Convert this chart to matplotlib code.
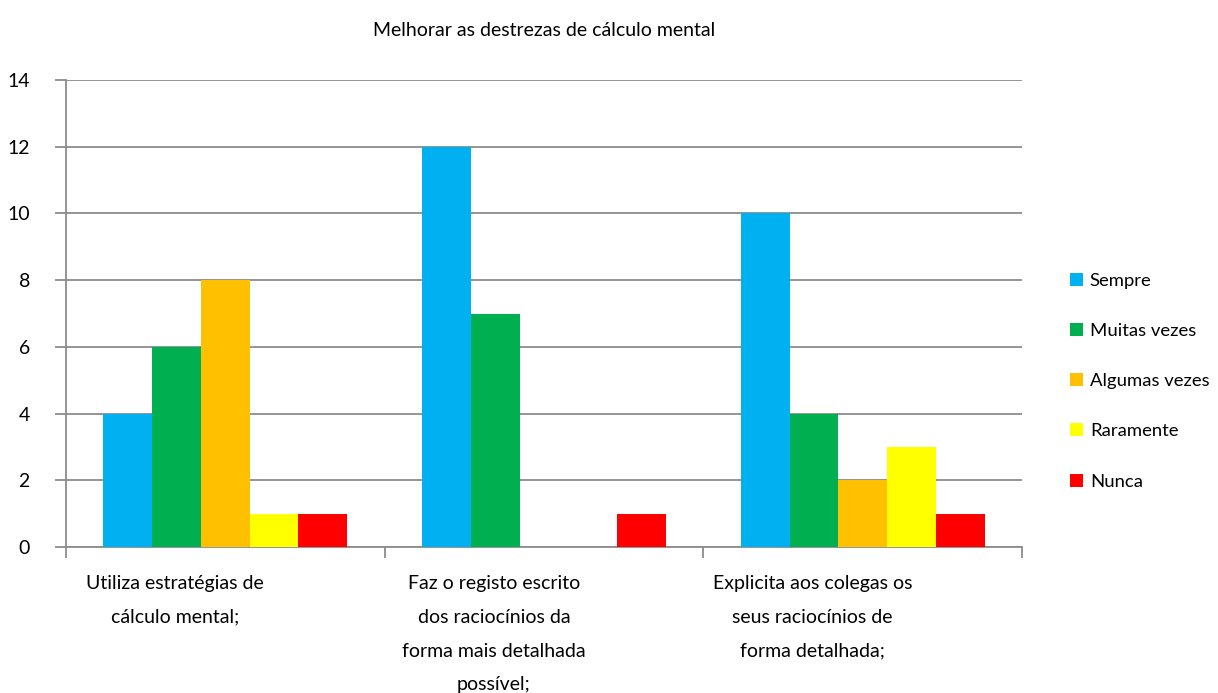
import matplotlib
matplotlib.use("Agg")
import matplotlib.pyplot as plt
import matplotlib.transforms as mtransforms
import numpy as np

plt.rcParams['font.family'] = ['Lato', 'DejaVu Sans']

title = "Melhorar as destrezas de cálculo mental"
categories = [
    "Utiliza estratégias de\ncálculo mental;",
    "Faz o registo escrito\ndos raciocínios da\nforma mais detalhada\npossível;",
    "Explicita aos colegas os\nseus raciocínios de\nforma detalhada;",
]
series = ["Sempre", "Muitas vezes", "Algumas vezes", "Raramente", "Nunca"]
sempre = [4, 12, 10]
muitas_vezes = [6, 7, 4]
algumas_vezes = [8, 0, 2]
raramente = [1, 0, 3]
nunca = [1, 1, 1]
colors = ["#00B0F0", "#00B050", "#FFC000", "#FFFF00", "#FF0000"]

values = [sempre, muitas_vezes, algumas_vezes, raramente, nunca]

fig = plt.figure(figsize=(12.18, 6.93), dpi=100)
ax = fig.add_axes([66 / 1218, 1 - 547 / 693, (1022 - 66) / 1218, (547 - 80) / 693])

x = np.arange(len(categories))
w = 0.153
for i, (name, vals, c) in enumerate(zip(series, values, colors)):
    ax.bar(x + (i - 2) * w, vals, width=w, color=c, label=name, zorder=3)

ax.set_xlim(-0.5, len(categories) - 0.5)
ax.set_ylim(0, 14)
ax.set_yticks(range(0, 15, 2))
ax.yaxis.grid(True, color="#8c8c8c", linewidth=1.3, zorder=0)
for s in ["top", "right"]:
    ax.spines[s].set_visible(False)
for s in ["left", "bottom"]:
    ax.spines[s].set_color("#8c8c8c")
    ax.spines[s].set_linewidth(1.3)
ax.tick_params(axis="y", length=8, width=1.3, color="#8c8c8c", pad=18, labelsize=14)
ax.set_xticks(np.arange(-0.5, len(categories), 1.0))
ax.set_xticklabels([])
ax.tick_params(axis="x", length=8, width=1.3, color="#8c8c8c")

# category labels, slightly shifted left as in the original
offset = mtransforms.ScaledTranslation(-0.5, -0.08, fig.dpi_scale_trans)
for xi, lab in zip(x, categories):
    ax.text(xi, -0.6, lab, ha="center", va="top", fontsize=14, linespacing=2.2,
            transform=ax.transData + offset)

ax.set_title(title, fontsize=14, pad=32)

leg = ax.legend(loc="center left", bbox_to_anchor=(1.039, 0.355), frameon=False,
                fontsize=13.3, handlelength=0.7, handleheight=0.7, handletextpad=0.35,
                labelspacing=1.85, borderaxespad=0.2)

fig.savefig("out.png", dpi=100)
